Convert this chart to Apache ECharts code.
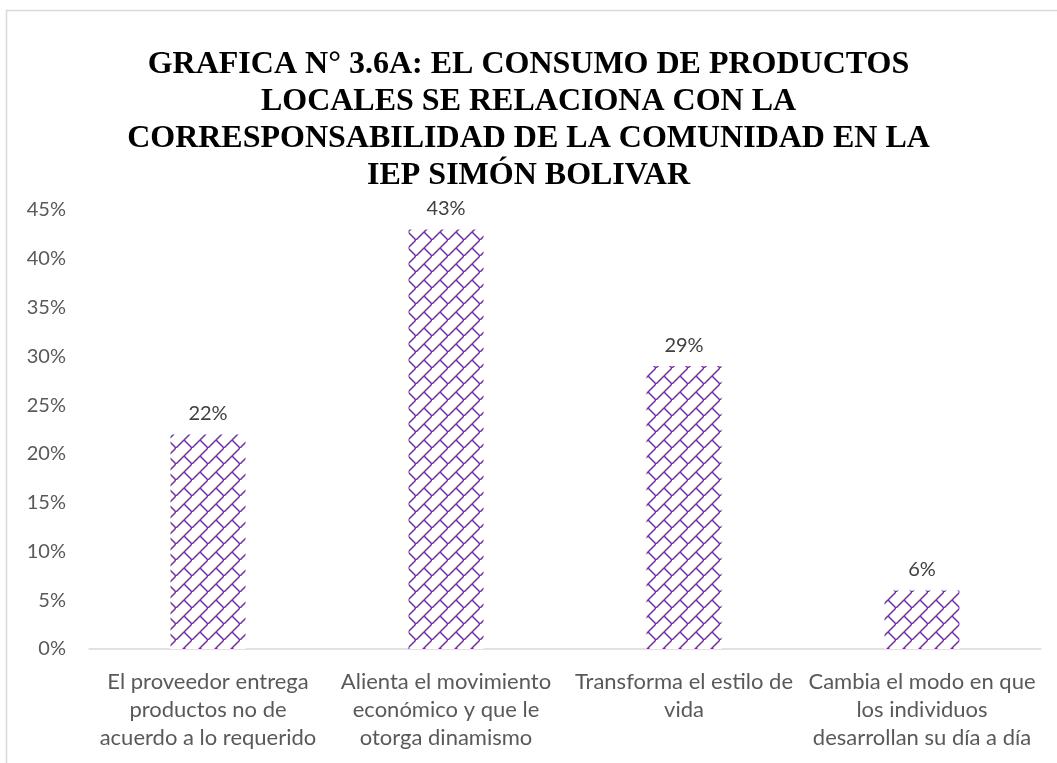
<!DOCTYPE html>
<html>
<head>
<meta charset="utf-8">
<script src="https://cdn.jsdelivr.net/npm/echarts@6/dist/echarts.min.js"></script>
<style>
  html, body { margin: 0; padding: 0; background: #ffffff; }
  #chart { width: 1057px; height: 763px; }
</style>
</head>
<body>
<div id="chart"></div>
<script>
// Categories and shares (fractions of respondents)
const categories = [
  'El proveedor entrega\nproductos no de\nacuerdo a lo requerido',
  'Alienta el movimiento\neconómico y que le\notorga dinamismo',
  'Transforma el estilo de\nvida',
  'Cambia el modo en que\nlos individuos\ndesarrollan su día a día'
];
const shares = [0.22, 0.43, 0.29, 0.06];
const yTicks = [0, 0.05, 0.10, 0.15, 0.20, 0.25, 0.30, 0.35, 0.40, 0.45];

const titleText = 'GRAFICA N° 3.6A: EL CONSUMO DE PRODUCTOS\nLOCALES SE RELACIONA CON LA\nCORRESPONSABILIDAD DE LA COMUNIDAD EN LA\nIEP SIMÓN BOLIVAR';

// Diagonal brick fill for the bars
function brickPattern() {
  const s = 16;
  const c = document.createElement('canvas');
  c.width = s; c.height = s;
  const g = c.getContext('2d');
  g.fillStyle = '#ffffff';
  g.fillRect(0, 0, s, s);
  g.strokeStyle = '#7030A0';
  g.lineWidth = 1.5;
  g.beginPath();
  g.moveTo(-1, s + 1); g.lineTo(s + 1, -1);
  g.moveTo(s / 2, s / 2); g.lineTo(s + 1, s + 1);
  g.stroke();
  return c;
}

const chart = echarts.init(document.getElementById('chart'), null, { renderer: 'canvas' });

chart.setOption({
  animation: false,
  backgroundColor: '#ffffff',
  graphic: [{
    type: 'rect',
    shape: { x: 6.5, y: 10.5, width: 1100, height: 900 },
    style: { fill: 'none', stroke: '#d9d9d9', lineWidth: 1.5 },
    silent: true,
    z: -10
  }],
  title: {
    text: titleText,
    left: 'center',
    top: 41,
    textStyle: {
      fontFamily: 'Liberation Serif',
      fontWeight: 'bold',
      fontSize: 32,
      lineHeight: 37,
      color: '#000000'
    }
  },
  grid: { left: 89, right: 16, top: 210, bottom: 114, containLabel: false },
  xAxis: {
    type: 'category',
    data: categories,
    axisTick: { show: false },
    axisLine: { lineStyle: { color: '#d9d9d9', width: 1.5 } },
    axisLabel: {
      interval: 0,
      margin: 19,
      fontFamily: 'Lato',
      fontSize: 22,
      lineHeight: 28,
      color: '#595959'
    }
  },
  yAxis: {
    type: 'value',
    min: 0,
    max: yTicks[yTicks.length - 1],
    interval: 0.05,
    splitLine: { show: false },
    axisLine: { show: false },
    axisTick: { show: false },
    axisLabel: {
      margin: 23,
      fontFamily: 'Lato',
      fontSize: 20,
      color: '#595959',
      formatter: v => Math.round(v * 100) + '%'
    }
  },
  series: [{
    type: 'bar',
    data: shares,
    barWidth: '31.5%',
    itemStyle: { color: { image: brickPattern(), repeat: 'repeat' } },
    label: {
      show: true,
      position: 'top',
      distance: 11,
      fontFamily: 'Lato',
      fontSize: 20,
      color: '#404040',
      formatter: p => Math.round(p.value * 100) + '%'
    }
  }]
});
</script>
</body>
</html>
